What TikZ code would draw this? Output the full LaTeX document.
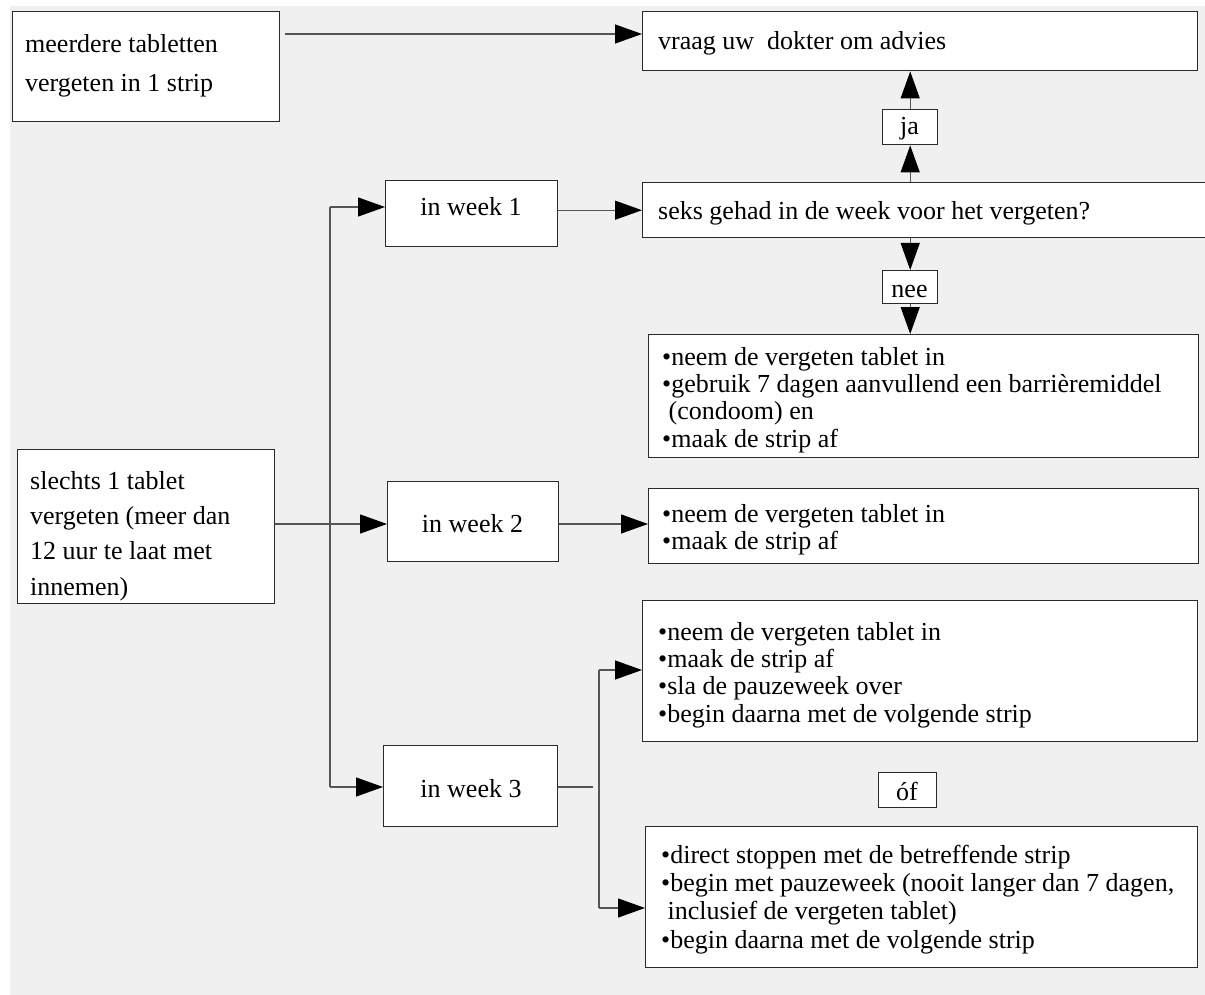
\documentclass[tikz,border=0pt]{standalone}
\usepackage{fontspec}
\setmainfont{Liberation Serif}
\usetikzlibrary{arrows.meta}
\definecolor{bggray}{HTML}{F0F0F0}
\definecolor{boxline}{HTML}{2A2A2A}
\definecolor{conline}{HTML}{555555}
\tikzset{
  box/.style={draw=boxline, line width=1.4pt, fill=white, inner sep=0pt, anchor=north west},
  conn/.style={draw=conline, line width=1.3pt},
  arr/.style={conn, -{Triangle[length=27pt,width=19pt,color=black]}},
  txt/.style={anchor=north west, inner sep=0pt, align=left},
  lbl/.style={anchor=base, inner sep=0pt, font=\fontsize{26}{30}\selectfont},
  lblw/.style={anchor=base west, inner sep=0pt, font=\fontsize{26}{30}\selectfont}
}
\begin{document}
\begin{tikzpicture}[x=1pt,y=-1pt]
\useasboundingbox (0,0) rectangle (1205,995);
\fill[white] (0,0) rectangle (1205,995);
\fill[bggray] (10,6) rectangle (1205,995);

% boxes
\node[box, minimum width=267pt, minimum height=110pt] (bMeer) at (12,11) {};
\node[box, minimum width=555pt, minimum height=59pt] (bDokter) at (642,11) {};
\node[box, minimum width=55pt, minimum height=35pt] (bJa) at (882,109) {};
\node[box, minimum width=580pt, minimum height=55pt] (bSeks) at (642,182) {};
\node[box, minimum width=172pt, minimum height=66pt] (bWeek1) at (385,180) {};
\node[box, minimum width=55pt, minimum height=33pt] (bNee) at (882,270) {};
\node[box, minimum width=550pt, minimum height=123pt] (bNeeRes) at (648,334) {};
\node[box, minimum width=257pt, minimum height=154pt] (bSlechts) at (17,449) {};
\node[box, minimum width=171pt, minimum height=80pt] (bWeek2) at (387,481) {};
\node[box, minimum width=550pt, minimum height=75pt] (bWtwoRes) at (648,488) {};
\node[box, minimum width=555pt, minimum height=141pt] (bWthreeA) at (642,600) {};
\node[box, minimum width=58pt, minimum height=35pt] (bOf) at (878,772) {};
\node[box, minimum width=552pt, minimum height=141pt] (bWthreeB) at (645,826) {};
\node[box, minimum width=174pt, minimum height=81pt] (bWeek3) at (383,745) {};

% texts
\node[txt, font=\fontsize{26}{39}\selectfont] (tMeer) at (25,24.7)
  {\strut meerdere tabletten\\\strut vergeten in 1 strip};
\node[lblw] (tDokter) at (658,50) {vraag uw\ \ dokter om advies};
\node[lbl] (tJa) at (909.5,135) {ja};
\node[lblw] (tSeks) at (658,220) {seks gehad in de week voor het vergeten?};
\node[lbl] (tWeek1) at (471,216) {in week 1};
\node[lbl] (tNee) at (909.5,297) {nee};
\node[txt, font=\fontsize{26}{27.3}\selectfont] (tNeeRes) at (662,345.9)
  {\strut •neem de vergeten tablet in\\
   \strut •gebruik 7 dagen aanvullend een barrièremiddel\\
   \strut\ (condoom) en\\
   \strut •maak de strip af};
\node[txt, font=\fontsize{26}{35.3}\selectfont] (tSlechts) at (30,464.3)
  {\strut slechts 1 tablet\\\strut vergeten (meer dan\\\strut 12 uur te laat met\\\strut innemen)};
\node[lbl] (tWeek2) at (472.5,532) {in week 2};
\node[txt, font=\fontsize{26}{27}\selectfont] (tWtwoRes) at (662,503.1)
  {\strut •neem de vergeten tablet in\\\strut •maak de strip af};
\node[txt, font=\fontsize{26}{27.3}\selectfont] (tWthreeA) at (658,620.9)
  {\strut •neem de vergeten tablet in\\
   \strut •maak de strip af\\
   \strut •sla de pauzeweek over\\
   \strut •begin daarna met de volgende strip};
\node[lbl] (tOf) at (907,800) {óf};
\node[lbl] (tWeek3) at (471,797) {in week 3};
\node[txt, font=\fontsize{26}{28.3}\selectfont] (tWthreeB) at (661,843.2)
  {\strut •direct stoppen met de betreffende strip\\
   \strut •begin met pauzeweek (nooit langer dan 7 dagen,\\
   \strut\ inclusief de vergeten tablet)\\
   \strut •begin daarna met de volgende strip};

% connector coordinates
\coordinate (mA) at (285,34);
\coordinate (jOne) at (330,207);
\coordinate (jMid) at (330,524);
\coordinate (jThree) at (330,787);
\coordinate (kEnd) at (593,787);
\coordinate (kA) at (599,670);
\coordinate (kB) at (599,908);

% connectors
\draw[arr] (mA) -- (bDokter.west |- mA);
\draw[arr] (bSeks.north -| bJa.south) -- (bJa.south);
\draw[arr] (bJa.north) -- (bDokter.south -| bJa.north);
\draw[arr] (bSeks.south -| bNee.north) -- (bNee.north);
\draw[arr] (bNee.south) -- (bNeeRes.north -| bNee.south);
\draw[conn] (jOne) -- (jThree);
\draw[conn] (bSlechts.east |- jMid) -- (jMid);
\draw[arr] (jOne) -- (bWeek1.west |- jOne);
\draw[arr] (jMid) -- (bWeek2.west |- jMid);
\draw[arr] (jThree) -- (bWeek3.west |- jThree);
\draw[arr] (bWeek1.east |- bSeks.west) -- (bSeks.west);
\draw[arr] (bWeek2.east |- jMid) -- (bWtwoRes.west |- jMid);
\draw[conn] (bWeek3.east |- kEnd) -- (kEnd);
\draw[conn] (kA) -- (kB);
\draw[arr] (kA) -- (bWthreeA.west |- kA);
\draw[arr] (kB) -- (bWthreeB.west |- kB);
\end{tikzpicture}
\end{document}
